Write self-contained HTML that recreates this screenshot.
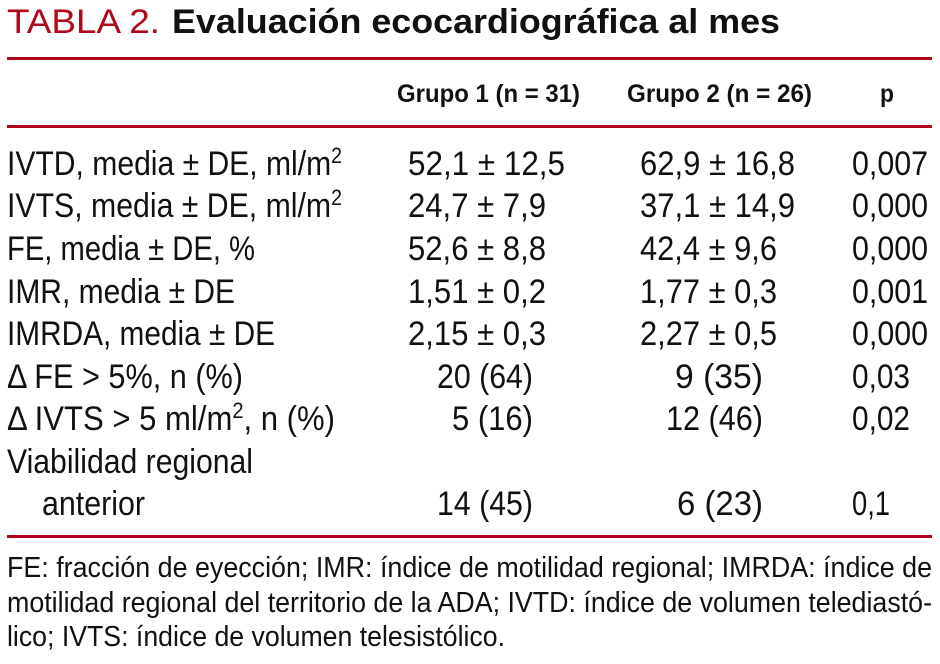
<!DOCTYPE html>
<html><head><meta charset="utf-8"><style>
html,body{margin:0;padding:0;background:#fff;width:940px;height:664px;overflow:hidden}
svg{display:block}
text{font-family:"Liberation Sans",sans-serif;fill:#111}
.b{font-size:34px}
.h{font-size:25px;font-weight:bold}
.f{font-size:29px}
</style></head><body>
<svg width="940" height="664">
<g>
<text x="7" y="33" font-size="34" fill="#b0081a" style="fill:#b0081a" textLength="153" lengthAdjust="spacingAndGlyphs">TABLA 2.</text>
<text x="172" y="33" font-size="34" font-weight="bold" textLength="608" lengthAdjust="spacingAndGlyphs">Evaluación ecocardiográfica al mes</text>
</g>
<rect x="7" y="57" width="925" height="3" fill="#b0081a"/>
<g>
<text class="h" x="397" y="102" textLength="183" lengthAdjust="spacingAndGlyphs">Grupo 1 (n = 31)</text>
<text class="h" x="627" y="102" textLength="185" lengthAdjust="spacingAndGlyphs">Grupo 2 (n = 26)</text>
<text class="h" x="880" y="102" textLength="14" lengthAdjust="spacingAndGlyphs">p</text>
</g>
<rect x="7" y="125" width="925" height="3" fill="#b0081a"/>
<g>
<text class="b" x="7" y="175" textLength="335" lengthAdjust="spacingAndGlyphs">IVTD, media ± DE, ml/m<tspan font-size="22" dy="-12">2</tspan></text>
<text class="b" x="408" y="175" textLength="157" lengthAdjust="spacingAndGlyphs">52,1 ± 12,5</text>
<text class="b" x="640" y="175" textLength="155" lengthAdjust="spacingAndGlyphs">62,9 ± 16,8</text>
<text class="b" x="852" y="175" textLength="76" lengthAdjust="spacingAndGlyphs">0,007</text>

<text class="b" x="7" y="217" textLength="335" lengthAdjust="spacingAndGlyphs">IVTS, media ± DE, ml/m<tspan font-size="22" dy="-12">2</tspan></text>
<text class="b" x="408" y="217" textLength="138" lengthAdjust="spacingAndGlyphs">24,7 ± 7,9</text>
<text class="b" x="640" y="217" textLength="155" lengthAdjust="spacingAndGlyphs">37,1 ± 14,9</text>
<text class="b" x="852" y="217" textLength="76" lengthAdjust="spacingAndGlyphs">0,000</text>

<text class="b" x="7" y="260" textLength="248" lengthAdjust="spacingAndGlyphs">FE, media ± DE, %</text>
<text class="b" x="408" y="260" textLength="138" lengthAdjust="spacingAndGlyphs">52,6 ± 8,8</text>
<text class="b" x="640" y="260" textLength="137" lengthAdjust="spacingAndGlyphs">42,4 ± 9,6</text>
<text class="b" x="852" y="260" textLength="76" lengthAdjust="spacingAndGlyphs">0,000</text>

<text class="b" x="7" y="303" textLength="228" lengthAdjust="spacingAndGlyphs">IMR, media ± DE</text>
<text class="b" x="408" y="303" textLength="138" lengthAdjust="spacingAndGlyphs">1,51 ± 0,2</text>
<text class="b" x="640" y="303" textLength="137" lengthAdjust="spacingAndGlyphs">1,77 ± 0,3</text>
<text class="b" x="852" y="303" textLength="76" lengthAdjust="spacingAndGlyphs">0,001</text>

<text class="b" x="7" y="345" textLength="268" lengthAdjust="spacingAndGlyphs">IMRDA, media ± DE</text>
<text class="b" x="408" y="345" textLength="138" lengthAdjust="spacingAndGlyphs">2,15 ± 0,3</text>
<text class="b" x="640" y="345" textLength="137" lengthAdjust="spacingAndGlyphs">2,27 ± 0,5</text>
<text class="b" x="852" y="345" textLength="76" lengthAdjust="spacingAndGlyphs">0,000</text>

<text class="b" x="7" y="388" textLength="236" lengthAdjust="spacingAndGlyphs">Δ FE &gt; 5%, n (%)</text>
<text class="b" x="437" y="388" textLength="96" lengthAdjust="spacingAndGlyphs">20 (64)</text>
<text class="b" x="675" y="388" textLength="88" lengthAdjust="spacingAndGlyphs">9 (35)</text>
<text class="b" x="852" y="388" textLength="58" lengthAdjust="spacingAndGlyphs">0,03</text>

<text class="b" x="7" y="430" textLength="328" lengthAdjust="spacingAndGlyphs">Δ IVTS &gt; 5 ml/m<tspan font-size="22" dy="-12">2</tspan><tspan dy="12">, n (%)</tspan></text>
<text class="b" x="452" y="430" textLength="81" lengthAdjust="spacingAndGlyphs">5 (16)</text>
<text class="b" x="666" y="430" textLength="97" lengthAdjust="spacingAndGlyphs">12 (46)</text>
<text class="b" x="852" y="430" textLength="58" lengthAdjust="spacingAndGlyphs">0,02</text>

<text class="b" x="7" y="473" textLength="246" lengthAdjust="spacingAndGlyphs">Viabilidad regional</text>
<text class="b" x="42" y="515" textLength="103" lengthAdjust="spacingAndGlyphs">anterior</text>
<text class="b" x="437" y="515" textLength="96" lengthAdjust="spacingAndGlyphs">14 (45)</text>
<text class="b" x="677" y="515" textLength="86" lengthAdjust="spacingAndGlyphs">6 (23)</text>
<text class="b" x="852" y="515" textLength="38" lengthAdjust="spacingAndGlyphs">0,1</text>
</g>
<rect x="7" y="535" width="925" height="3" fill="#b0081a"/>
<g>
<text class="f" x="7" y="577" textLength="925" lengthAdjust="spacingAndGlyphs">FE: fracción de eyección; IMR: índice de motilidad regional; IMRDA: índice de</text>
<text class="f" x="7" y="612" textLength="925" lengthAdjust="spacingAndGlyphs">motilidad regional del territorio de la ADA; IVTD: índice de volumen telediastó-</text>
<text class="f" x="7" y="646" textLength="498" lengthAdjust="spacingAndGlyphs">lico; IVTS: índice de volumen telesistólico.</text>
</g>
</svg>
</body></html>
